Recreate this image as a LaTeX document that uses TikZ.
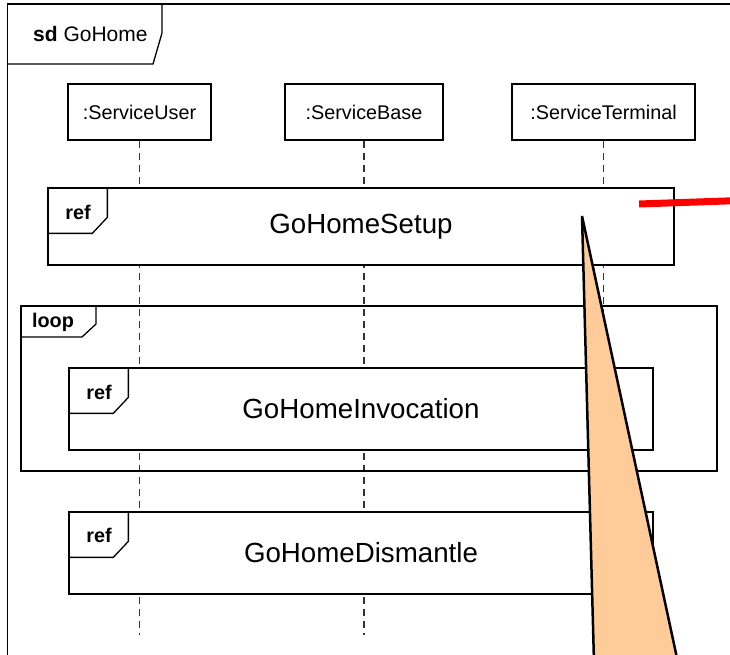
\documentclass[tikz,border=0pt]{standalone}
\usepackage{fontspec}
\setmainfont{Liberation Sans}
\definecolor{peach}{HTML}{FFCC99}
\begin{document}
\begin{tikzpicture}[x=1pt,y=-1pt,
  frameline/.style={draw=black,line width=1.3pt},
  outerline/.style={draw=black,line width=1.8pt},
  lifebox/.style={draw=black,line width=1.1pt,fill=white,minimum height=56pt,inner sep=0pt,font=\fontsize{19.8}{23}\selectfont},
  life/.style={draw=black!80,line width=1.1pt,dash pattern=on 7pt off 5pt},
  refbox/.style={draw=black,line width=1.3pt,fill=white,inner sep=0pt,font=\fontsize{27.7}{32}\selectfont},
  tablabel/.style={font=\bfseries\fontsize{19.8}{22}\selectfont,inner sep=0pt},
  tabline/.style={draw=black,line width=1.3pt},
  callout/.style={fill=peach,draw=black,line width=2.5pt,line join=miter},
  redbar/.style={draw=red,line width=7pt}
]
\useasboundingbox (0,0) rectangle (730,655);
\clip (0,0) rectangle (730,655);
\fill[white] (0,0) rectangle (730,655);

% outer sd frame
\coordinate (fbl) at (7.5,700);
\coordinate (ftl) at (7.5,4);
\coordinate (ftr) at (760,4);
\draw[outerline] (fbl) -- (ftl) -- (ftr);
\draw[tabline] (7.5,64) -- (153,64) -- (162,33) -- (162,4);
\node[anchor=west,inner sep=0pt,font=\fontsize{21}{24}\selectfont] (sdlabel) at (33,34) {\textbf{sd} GoHome};

% lifeline heads
\node[lifebox,minimum width=143pt] (su) at (139.5,112) {:ServiceUser};
\node[lifebox,minimum width=158pt] (sb) at (364,112) {:ServiceBase};
\node[lifebox,minimum width=183pt] (st) at (603.5,112) {:ServiceTerminal};
\coordinate (sue) at (139.5,635);
\coordinate (sbe) at (364,635);
\coordinate (ste) at (603.5,635);
\draw[life] (su.south) -- (sue);
\draw[life] (sb.south) -- (sbe);
\draw[life] (st.south) -- (ste);

% GoHomeSetup
\node[refbox,minimum width=626pt,minimum height=77pt] (setup) at (361,226.5) {GoHomeSetup};
\draw[tabline] (setup.north west) ++(60,0) -- ++(0,30) -- ++(-15,16) -- ++(-45,0);
\node[tablabel] (setupref) at (78,212) {ref};

% loop frame
\coordinate (loopnw) at (21,306);
\coordinate (loopse) at (717,471);
\draw[frameline] (loopnw) rectangle (loopse);
\draw[tabline] (21,337) -- (82,337) -- (96,324) -- (96,306);
\node[tablabel] (looplabel) at (53,322) {loop};

% GoHomeInvocation
\node[refbox,minimum width=584pt,minimum height=82pt] (invoc) at (361,409) {GoHomeInvocation};
\draw[tabline] (invoc.north west) ++(60,0) -- ++(0,30) -- ++(-15,16) -- ++(-45,0);
\node[tablabel] (invocref) at (99,392) {ref};

% GoHomeDismantle
\node[refbox,minimum width=584pt,minimum height=82pt] (dism) at (361,553) {GoHomeDismantle};
\draw[tabline] (dism.north west) ++(60,0) -- ++(0,30) -- ++(-15,16) -- ++(-45,0);
\node[tablabel] (dismref) at (99,535) {ref};

% callout wedge
\coordinate (ctip) at (582,216);
\coordinate (cbl) at (595,700);
\coordinate (cbr) at (686,700);
\draw[callout] (ctip) -- (cbl) -- (cbr) -- cycle;

% red bar
\coordinate (ra) at (639,204);
\coordinate (rb) at (740,200.5);
\draw[redbar] (ra) -- (rb);
\end{tikzpicture}
\end{document}
